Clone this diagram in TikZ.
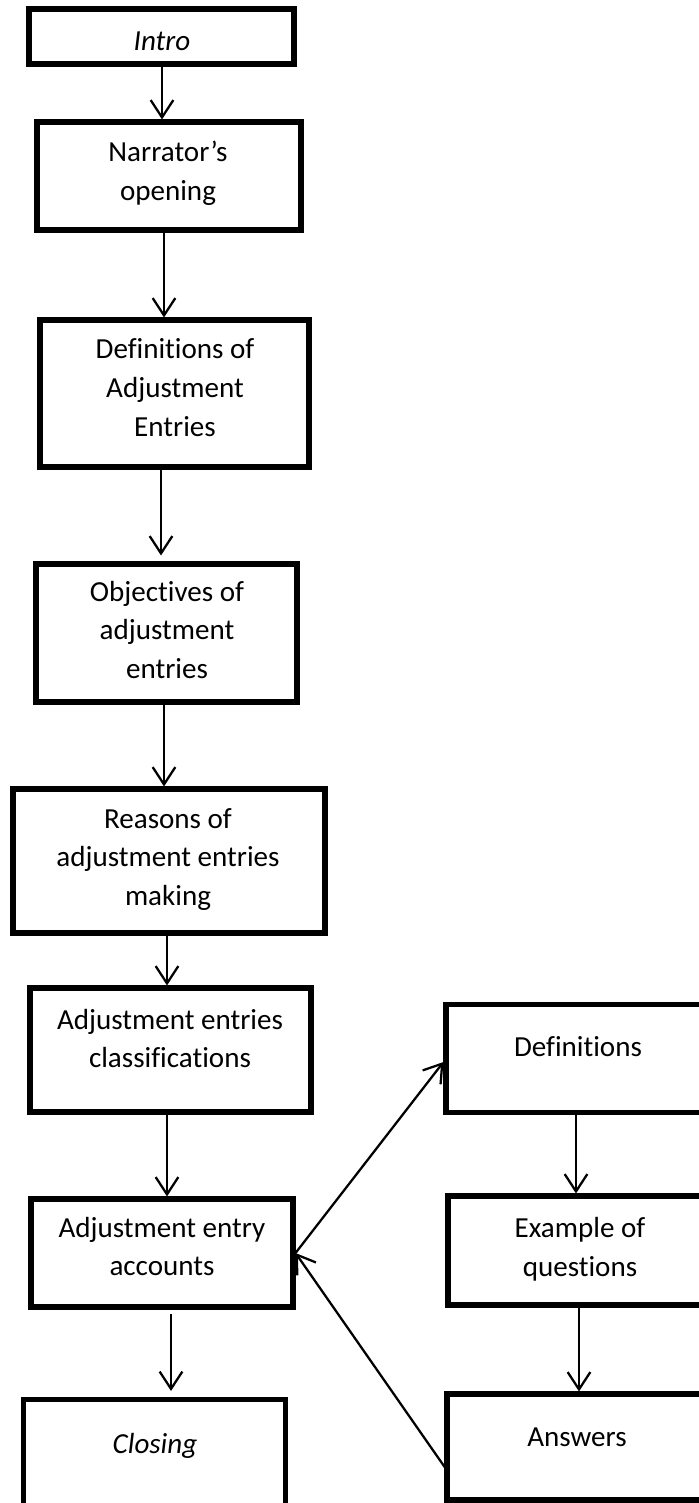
\documentclass[tikz,border=0pt]{standalone}
\usepackage{fontspec}
\setmainfont[Ligatures={NoCommon}]{Carlito}
\usetikzlibrary{arrows.meta,calc}
\def\PX{0.75pt}
\begin{document}
\begin{tikzpicture}[x=0.75pt,y=-0.75pt,
  box/.style={draw, line width=3.8pt, rectangle, inner sep=0pt},
  txt/.style={inner sep=0pt, align=center, font=\fontsize{21.8}{29}\selectfont},
  arr/.style={line width=1.7pt, -{Straight Barb[length=13pt,width=17pt]}}]
\useasboundingbox (0,0) rectangle (699,1503);
\clip (0,0) rectangle (699,1503);

% boxes
\node[box, minimum width=265*\PX, minimum height=55*\PX]  (intro) at (161.5,36.5) {};
\node[box, minimum width=264*\PX, minimum height=108*\PX] (narr)  at (169,176) {};
\node[box, minimum width=269*\PX, minimum height=147*\PX] (def)   at (174.5,393.5) {};
\node[box, minimum width=261*\PX, minimum height=138*\PX] (obj)   at (166.5,633) {};
\node[box, minimum width=312*\PX, minimum height=144*\PX] (reas)  at (169,861) {};
\node[box, minimum width=281*\PX, minimum height=124*\PX] (cls)   at (170.5,1050) {};
\node[box, minimum width=262*\PX, minimum height=108*\PX] (acc)   at (162,1253) {};
\node[box, minimum width=262*\PX, minimum height=160*\PX] (close) at (154.5,1479.5) {};
\node[box, minimum width=284*\PX, minimum height=108*\PX] (rdef)  at (588,1058.5) {};
\node[box, minimum width=282*\PX, minimum height=109*\PX] (rexm)  at (589,1250.5) {};
\node[box, minimum width=283*\PX, minimum height=106*\PX] (rans)  at (588.5,1447) {};

% texts
\node[txt, anchor=base] (introT) at (162,50) {\itshape Intro};
\node[txt] (narrT) at (168,173) {Narrator’s\\opening};
\node[txt] (defT)  at (175,387.5) {Definitions of\\Adjustment\\Entries};
\node[txt] (objT)  at (167,630) {Objectives of\\adjustment\\entries};
\node[txt] (reasT) at (168,859.5) {Reasons of\\adjustment entries\\making};
\node[txt] (clsT)  at (170,1038.5) {Adjustment entries\\classifications};
\node[txt] (accT)  at (162,1246.5) {Adjustment entry\\accounts};
\node[txt, anchor=base] (closeT) at (155,1453) {\itshape Closing};
\node[txt, anchor=base] (rdefT)  at (578,1056) {Definitions};
\node[txt] (rexmT) at (580,1249) {Example of\\questions};
\node[txt, anchor=base] (ransT)  at (577,1446) {Answers};

% arrow x positions
\coordinate (x1) at (162,0);
\coordinate (x2) at (164,0);
\coordinate (x3) at (161,0);
\coordinate (x4) at (164,0);
\coordinate (x5) at (167,0);
\coordinate (x6) at (167,0);
\coordinate (x7) at (171,0);
\coordinate (x8) at (576,0);
\coordinate (x9) at (579,0);

\draw[arr] (intro.south -| x1) -- (narr.north -| x1);
\draw[arr] (narr.south -| x2) -- (def.north -| x2);
\draw[arr, shorten >=4.5pt] (def.south -| x3) -- (obj.north -| x3);
\draw[arr] (obj.south -| x4) -- (reas.north -| x4);
\draw[arr] (reas.south -| x5) -- (cls.north -| x5);
\draw[arr] (cls.south -| x6) -- (acc.north -| x6);
\draw[arr, shorten <=3.5pt, shorten >=4.5pt] (acc.south -| x7) -- (close.north -| x7);
\draw[arr] (rdef.south -| x8) -- (rexm.north -| x8);
\draw[arr] (rexm.south -| x9) -- (rans.north -| x9);

\coordinate (rdefIn) at ($(rdef.west)+(0,3.5)$);
\coordinate (ransOut) at ($(rans.north west)+(4,81)$);
\draw[arr] (acc.east) -- (rdefIn);
\draw[arr] (ransOut) -- (acc.east);
\end{tikzpicture}
\end{document}
